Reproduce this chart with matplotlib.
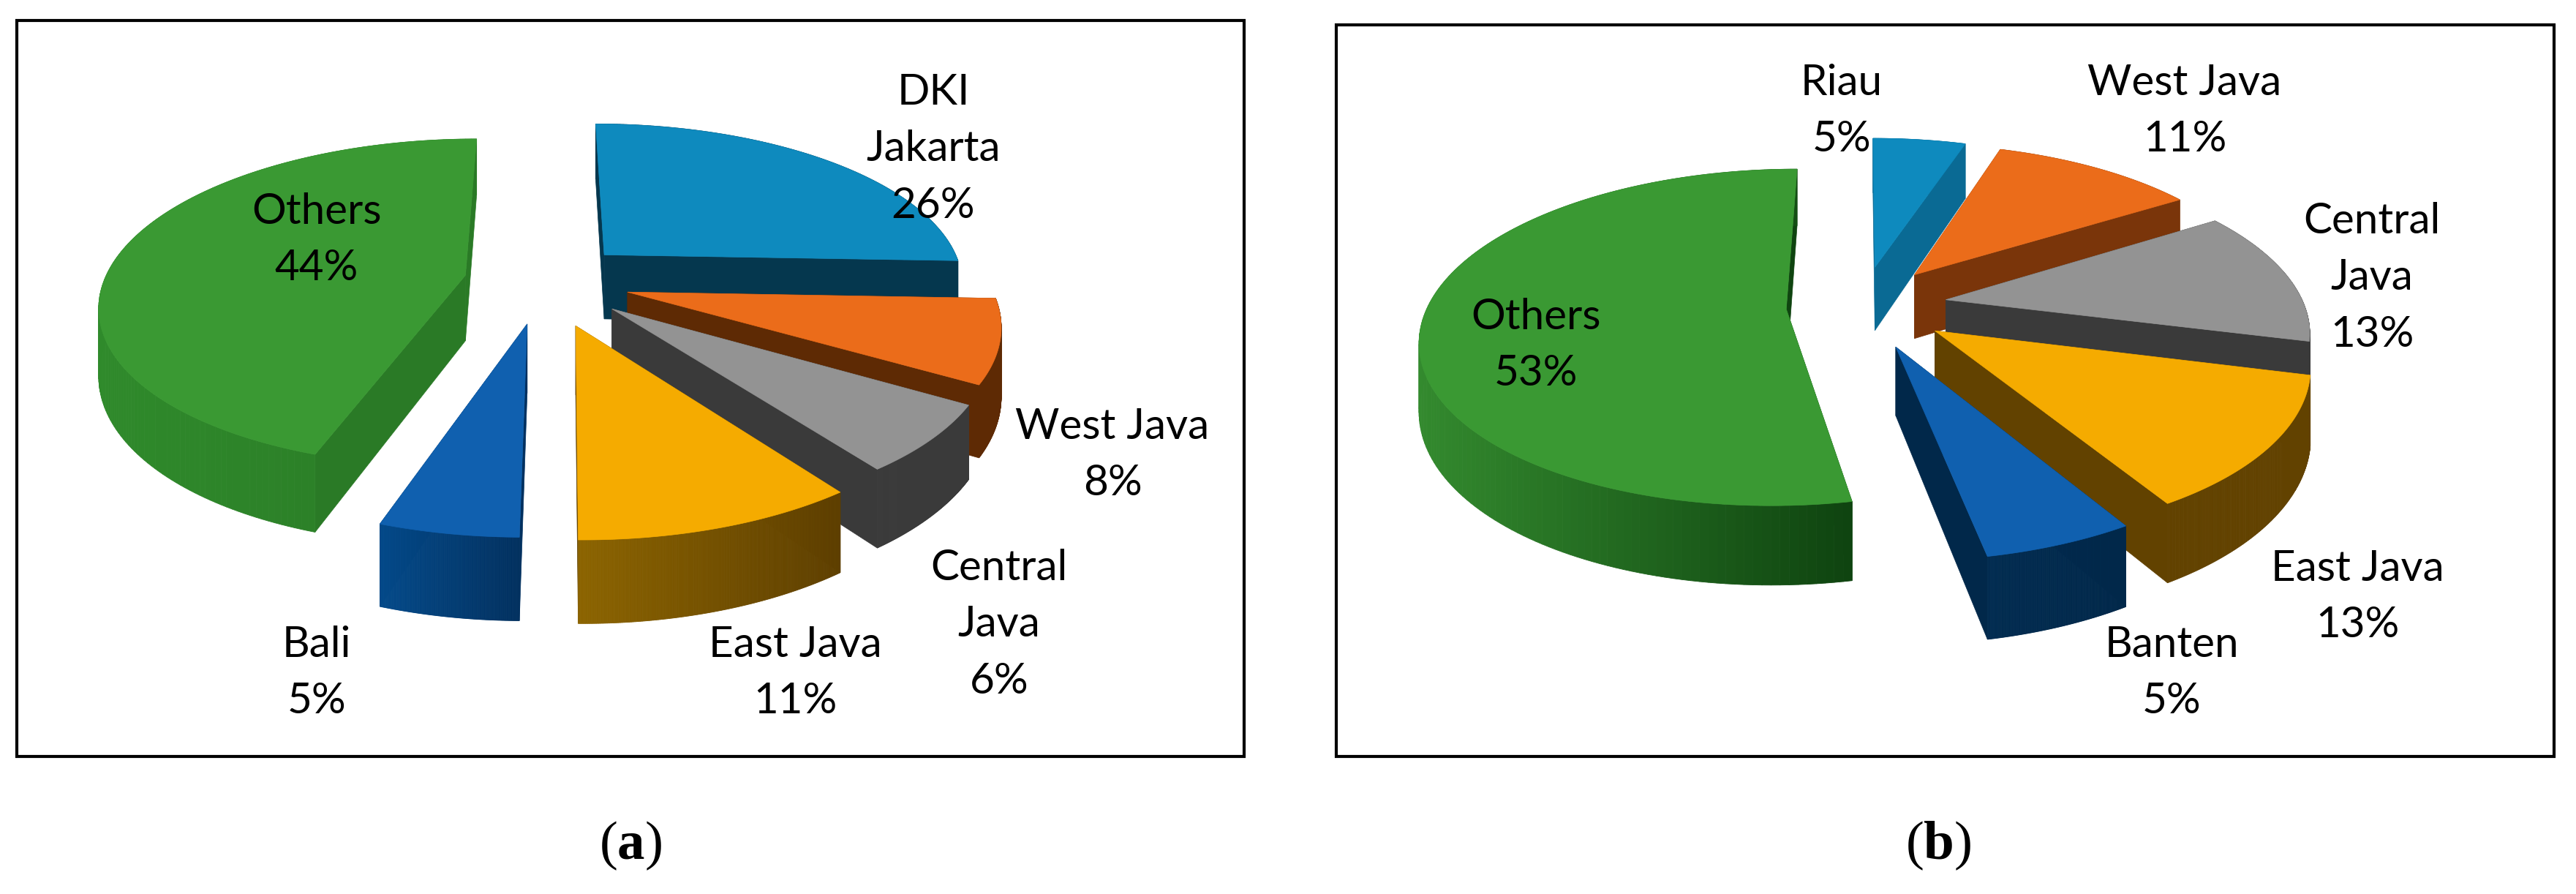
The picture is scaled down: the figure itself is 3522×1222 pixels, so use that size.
import numpy as np
import matplotlib
matplotlib.use("Agg")
import matplotlib.pyplot as plt
from matplotlib.patches import Rectangle

W, H = 3522, 1222

plt.rcParams.update({
    "font.family": "Lato",
    "mathtext.fontset": "custom",
    "mathtext.rm": "Liberation Serif",
    "mathtext.bf": "Liberation Serif:bold",
})

# panel (a)
names_a = ["DKI\nJakarta", "West Java", "Central\nJava", "East Java", "Bali", "Others"]
labels_a = [26, 8, 6, 11, 5, 44]
# slice sizes, the labels above are rounded
shares_a = [25.6, 8.0, 6.4, 10.15, 5.0, 44.85]
# panel (b)
names_b = ["Riau", "West Java", "Central\nJava", "East Java", "Banten", "Others"]
labels_b = [5, 11, 13, 13, 5, 53]
shares_b = [5, 11, 13, 12.5, 5.5, 53]

# how far each slice is pulled out, as a share of the radius
explode_a = [0.24, 0.24, 0.25, 0.28, 0.26, 0.22]
explode_b = [0.25, 0.25, 0.24, 0.25, 0.26, 0.21]

# label centres in image pixels
label_xy_a = [(1276, 204), (1521, 622), (1366, 854), (1087, 920), (433, 920), (433, 328)]
label_xy_b = [(2518, 152), (2987, 152), (3243, 380), (3223, 816), (2969, 920), (2100, 472)]

# top colour, wall colour left, wall colour right
colors_a = [
    ("#0E8ABE", "#05374E", "#05374E"),
    ("#EB6C1A", "#5E2A04", "#5E2A04"),
    ("#939393", "#3A3A3A", "#3A3A3A"),
    ("#F5AB00", "#8C6400", "#5E3F00"),
    ("#1060AF", "#044A8A", "#01305F"),
    ("#3A9933", "#2F8A2B", "#2A7A26"),
]
colors_b = [
    ("#0E8ABE", "#0A6A94", "#0A6A94"),
    ("#EB6C1A", "#7A350A", "#7A350A"),
    ("#939393", "#3A3A3A", "#3A3A3A"),
    ("#F5AB00", "#624200", "#624200"),
    ("#1060AF", "#012B50", "#01284A"),
    ("#3A9933", "#338A2E", "#0F4410"),
]

PERSPECTIVE = 0.168


def project(X, Y, pie):
    s = 1.0 / (1.0 - PERSPECTIVE * Y)
    return pie["cx"] + pie["rx"] * X * s, pie["cy"] + pie["ry"] * Y * s, s


def mix(c1, c2, t):
    a = np.array(matplotlib.colors.to_rgb(c1))
    b = np.array(matplotlib.colors.to_rgb(c2))
    return tuple(a + (b - a) * t)


def draw_pie(ax, values, explode, colors, pie):
    fracs = np.array(values, dtype=float) / sum(values)
    ends = np.cumsum(fracs) * 2 * np.pi
    starts = ends - fracs * 2 * np.pi
    mids = (starts + ends) / 2
    # painter's order: slices at the back of the pie first
    order = np.argsort(-np.cos(mids))
    for i in order:
        dx = explode[i] * np.sin(mids[i])
        dy = -explode[i] * np.cos(mids[i])
        top, left, right = colors[i]
        t = np.linspace(starts[i], ends[i], 160)
        x, y, s = project(np.sin(t) + dx, -np.cos(t) + dy, pie)
        y2 = y + pie["depth"] * s
        x0, y0, s0 = project(dx, dy, pie)
        y02 = y0 + pie["depth"] * s0
        # radial walls
        for k in (0, -1):
            ax.fill([x0, x[k], x[k], x0], [y0, y[k], y2[k], y02], color=right, lw=0.5, zorder=2)
        # outer wall as strips, shaded left to right
        span = max(x.max() - x.min(), 1)
        for k in range(len(t) - 1):
            c = mix(left, right, (x[k] - x.min()) / span)
            ax.fill([x[k], x[k + 1], x[k + 1], x[k]], [y[k], y[k + 1], y2[k + 1], y2[k]],
                    color=c, lw=0.6, zorder=2)
        ax.fill(np.r_[x0, x], np.r_[y0, y], color=top, lw=0.5, zorder=2)


def add_labels(ax, names, values, xy):
    for name, v, (x, y) in zip(names, values, xy):
        ax.text(x, y, f"{name}\n{v}%", ha="center", va="center", fontsize=42,
                linespacing=1.58, color="black", zorder=5)


fig = plt.figure(figsize=(W / 100, H / 100), dpi=100)
ax = fig.add_axes([0, 0, 1, 1])
ax.set_xlim(0, W)
ax.set_ylim(H, 0)
ax.axis("off")

ax.add_patch(Rectangle((23, 28), 1678, 1006, fill=False, ec="black", lw=3))
ax.add_patch(Rectangle((1827, 34), 1665, 1000, fill=False, ec="black", lw=3))

pie_a = {"cx": 743, "cy": 384, "rx": 494, "ry": 220, "depth": 90}
pie_b = {"cx": 2545, "cy": 418, "rx": 490, "ry": 222, "depth": 90}

draw_pie(ax, shares_a, explode_a, colors_a, pie_a)
draw_pie(ax, shares_b, explode_b, colors_b, pie_b)
add_labels(ax, names_a, labels_a, label_xy_a)
add_labels(ax, names_b, labels_b, label_xy_b)

ax.text(862, 1156, r"($\mathbf{a}$)", ha="center", va="center", fontsize=54, family="Liberation Serif")
ax.text(2650, 1156, r"($\mathbf{b}$)", ha="center", va="center", fontsize=54, family="Liberation Serif")

fig.savefig("out.png", dpi=100, facecolor="white")
